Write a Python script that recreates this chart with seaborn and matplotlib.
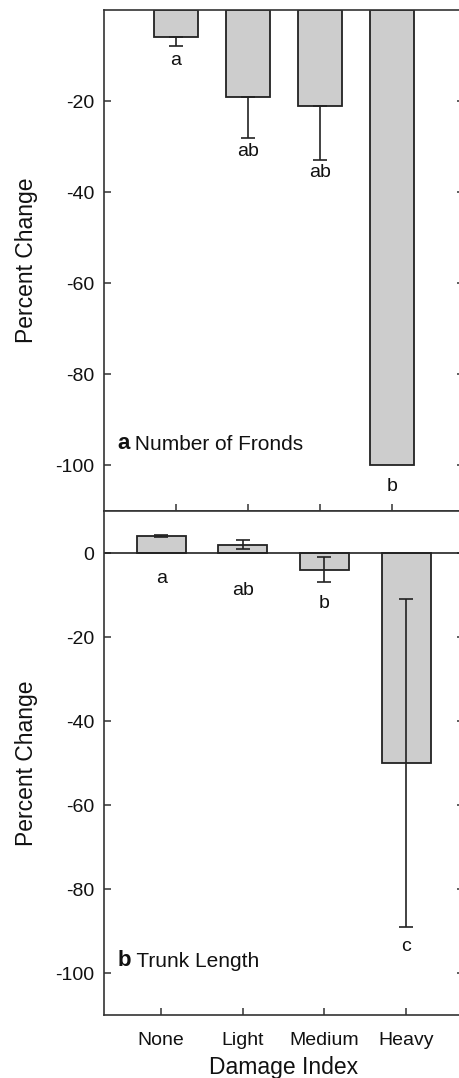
import numpy as np
import pandas as pd
import matplotlib
matplotlib.use("Agg")
import matplotlib.pyplot as plt
import seaborn as sns

# ---- data ----
categories = ["None", "Light", "Medium", "Heavy"]

fronds_change = [-6, -19, -21, -100]
fronds_err = [2, 9, 12, 0]          # one-sided (downward) error bars
fronds_letters = ["a", "ab", "ab", "b"]

trunk_change = [4, 2, -4, -50]
trunk_err = [0.3, 1, 3, 39]         # two-sided error bars
trunk_letters = ["a", "ab", "b", "c"]

# ---- annotation layout (y positions of letters, data units) ----
fronds_letter_y = [-11, -31, -35.7, -104.6]
trunk_letter_y = [-6, -9, -12, -93.8]

sns.set_theme(style="ticks")
plt.rcParams["font.family"] = ["Liberation Sans", "DejaVu Sans"]
plt.rcParams["axes.unicode_minus"] = False

DARK = "#222222"
FILL = "#cdcdcd"

fig = plt.figure(figsize=(4.6, 10.78), dpi=100)
W, H = 460.0, 1078.0
ax_top = fig.add_axes([104 / W, 1 - 511 / H, 360 / W, 501 / H])
ax_bot = fig.add_axes([104 / W, 1 - 1015 / H, 360 / W, 504 / H])


def draw_panel(ax, vals, errs, two_sided, letters, letter_y):
    df = pd.DataFrame({"Damage": categories, "Change": vals})
    sns.barplot(data=df, x="Damage", y="Change", order=categories, ax=ax,
                color=FILL, saturation=1, width=0.6,
                edgecolor=DARK, linewidth=1.3, errorbar=None)
    xs = np.arange(len(categories))
    v = np.array(vals, dtype=float)
    e = np.array(errs, dtype=float)
    m = e > 0
    if two_sided:
        yerr = e[m]
    else:
        yerr = np.vstack([e[m], np.zeros(m.sum())])
    ax.errorbar(xs[m], v[m], yerr=yerr, fmt="none", ecolor=DARK,
                elinewidth=1.2, capsize=5.2, capthick=1.2, zorder=3)
    for x, lab, y in zip(xs, letters, letter_y):
        ax.text(x, y, lab, ha="center", va="center", fontsize=14, color="#111111")
    for s in ax.spines.values():
        s.set_color("#333333")
        s.set_linewidth(1.2)
    ax.tick_params(direction="in", length=5, width=1.1, color="#333333",
                   right=True, top=False, labelsize=14, labelcolor="#111111",
                   pad=7)
    ax.set_ylabel("Percent Change", fontsize=16.5, color="#111111", va="center")
    ax.yaxis.set_label_coords(-0.215, 0.5)


def panel_label(ax, letter, title, x, y):
    t = ax.text(x, y, letter, fontsize=16, fontweight="bold", va="baseline",
                ha="left", color="#111111")
    ax.annotate(" " + title, xy=(1, 0), xycoords=t, va="bottom", ha="left",
                fontsize=15, color="#111111")


# top panel: number of fronds
draw_panel(ax_top, fronds_change, fronds_err, False, fronds_letters, fronds_letter_y)
ax_top.set_xlim(-1, 4)
ax_top.set_ylim(-110, 0)
ax_top.set_yticks([-20, -40, -60, -80, -100])
ax_top.set_xticks(range(len(categories)))
ax_top.set_xticklabels([])
ax_top.set_xlabel("")
panel_label(ax_top, "a", "Number of Fronds", -0.82, -96.4)

# bottom panel: trunk length
draw_panel(ax_bot, trunk_change, trunk_err, True, trunk_letters, trunk_letter_y)
ax_bot.axhline(0, color=DARK, lw=1.2, zorder=1)
ax_bot.set_xlim(-0.7, 3.71)
ax_bot.set_ylim(-110, 10)
ax_bot.set_yticks([0, -20, -40, -60, -80, -100])
ax_bot.tick_params(axis="x", pad=12)
ax_bot.set_xlabel("Damage Index", fontsize=16.5, color="#111111", labelpad=5)
panel_label(ax_bot, "b", "Trunk Length", -0.53, -98.3)

fig.savefig("out.png", dpi=100)
